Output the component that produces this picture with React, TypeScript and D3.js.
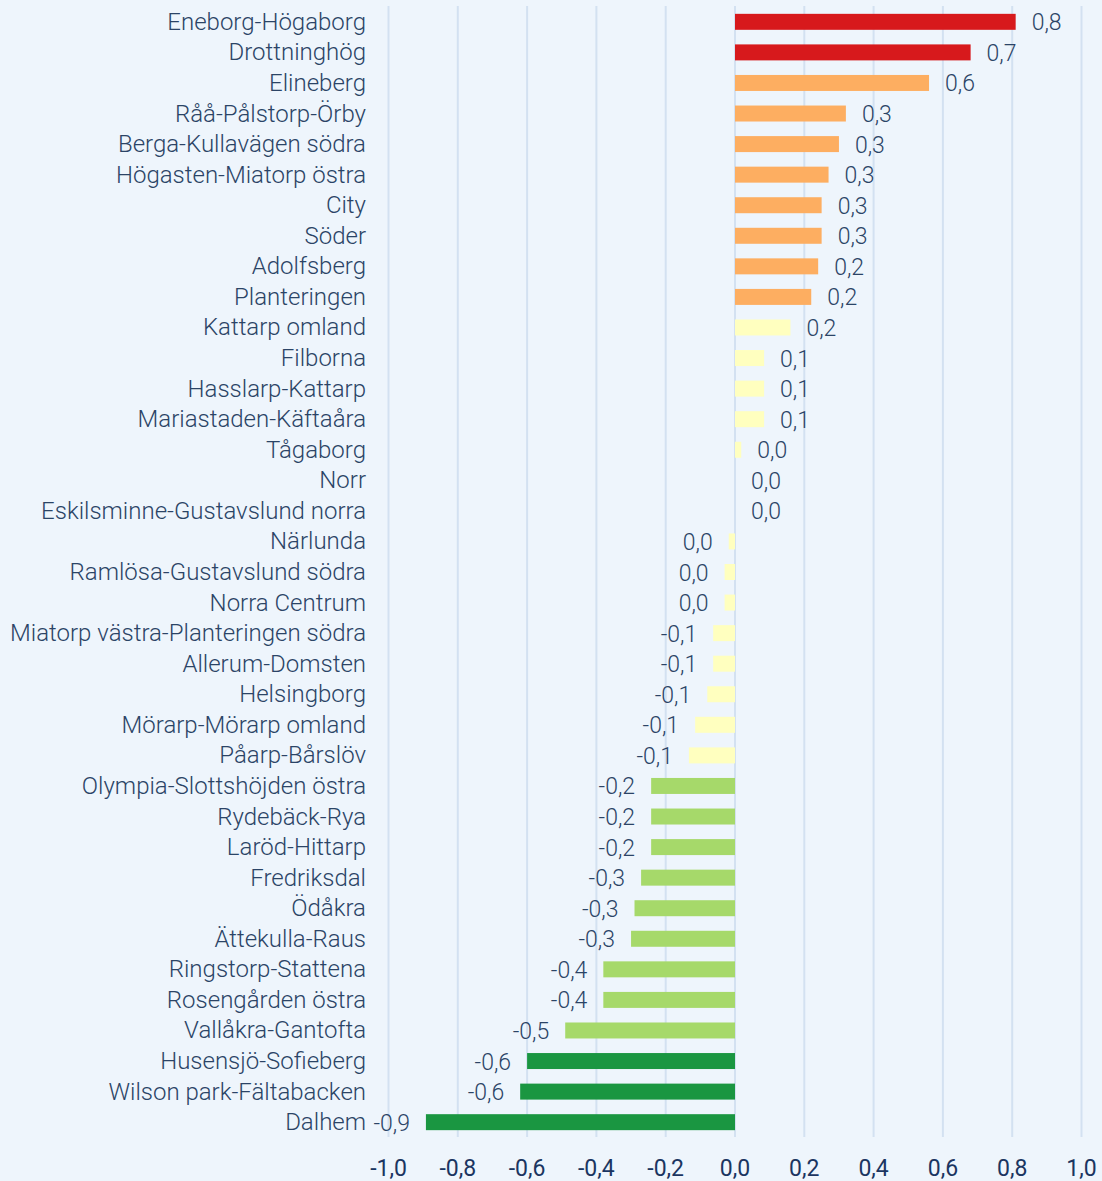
import React from "react";
import * as d3 from "d3";

const categories = [
  "Eneborg-Högaborg","Drottninghög","Elineberg","Råå-Pålstorp-Örby","Berga-Kullavägen södra",
  "Högasten-Miatorp östra","City","Söder","Adolfsberg","Planteringen","Kattarp omland","Filborna",
  "Hasslarp-Kattarp","Mariastaden-Käftaåra","Tågaborg","Norr","Eskilsminne-Gustavslund norra",
  "Närlunda","Ramlösa-Gustavslund södra","Norra Centrum","Miatorp västra-Planteringen södra",
  "Allerum-Domsten","Helsingborg","Mörarp-Mörarp omland","Påarp-Bårslöv","Olympia-Slottshöjden östra",
  "Rydebäck-Rya","Laröd-Hittarp","Fredriksdal","Ödåkra","Ättekulla-Raus","Ringstorp-Stattena",
  "Rosengården östra","Vallåkra-Gantofta","Husensjö-Sofieberg","Wilson park-Fältabacken","Dalhem",
];
const values = [
  0.81,0.68,0.56,0.32,0.30,0.27,0.25,0.25,0.24,0.22,0.16,0.084,0.084,0.084,0.018,0.0,0.0,
  -0.018,-0.03,-0.03,-0.063,-0.063,-0.08,-0.115,-0.133,-0.242,-0.242,-0.242,-0.271,-0.29,-0.30,
  -0.38,-0.38,-0.49,-0.60,-0.62,-0.892,
];
// class per row: 0=red,1=orange,2=yellow,3=lightgreen,4=green
const classes = [
  0,0,1,1,1,1,1,1,1,1,2,2,2,2,2,2,2,2,2,2,2,2,2,2,2,3,3,3,3,3,3,3,3,3,4,4,4,
];
const classColors = ["#D7191C","#FDAE61","#FFFFBF","#A6D96A","#1A9641"];
const ticks = [-1,-0.8,-0.6,-0.4,-0.2,0,0.2,0.4,0.6,0.8,1.0];

const fmt = (v: number) => {
  const s = d3.format(".1f")(Math.abs(v) < 0.05 ? 0 : v).replace(".", ",");
  return s.replace("−", "-");
};

export default function App() {
  const W = 1102, H = 1181;
  const x = d3.scaleLinear().domain([-1, 1]).range([388.5, 1081.5]);
  const y = d3.scaleBand().domain(categories).range([6.5, 1137.5]).paddingInner(0.477).paddingOuter(0.24);
  const bh = y.bandwidth();
  const textColor = "#2b4466";
  return (
    <svg width={W} height={H} style={{ position: "absolute", left: 0, top: 0, background: "#EEF5FC" }}
      fontFamily="Roboto, sans-serif">
      <rect x={0} y={0} width={W} height={H} fill="#EEF5FC" />
      {ticks.map((t) => (
        <line key={"g" + t} x1={x(t)} x2={x(t)} y1={6} y2={1137} stroke="#D3E1F1" strokeWidth={2} />
      ))}
      {categories.map((c, i) => {
        const v = values[i];
        const y0 = y(c)!;
        const cy = y0 + bh / 2;
        const x0 = x(Math.min(0, v));
        const x1 = x(Math.max(0, v));
        return (
          <g key={c}>
            {Math.abs(v) > 0.0001 && (
              <rect x={x0} y={y0} width={x1 - x0} height={bh} fill={classColors[classes[i]]} />
            )}
            <text x={366} y={cy} textAnchor="end" dominantBaseline="central" fontSize={24}
              fontWeight={300} fill={textColor}>{c}</text>
            <text x={v >= 0 ? x1 + 16 : x0 - 16} y={cy + 1} textAnchor={v >= 0 ? "start" : "end"}
              dominantBaseline="central" fontSize={23} fontWeight={300} fill={textColor}>{fmt(v)}</text>
          </g>
        );
      })}
      {ticks.map((t) => (
        <text key={"t" + t} x={x(t)} y={1168} textAnchor="middle" dominantBaseline="central"
          fontSize={23} fontWeight={400} fill="#1B3561">{fmt(t)}</text>
      ))}
    </svg>
  );
}
